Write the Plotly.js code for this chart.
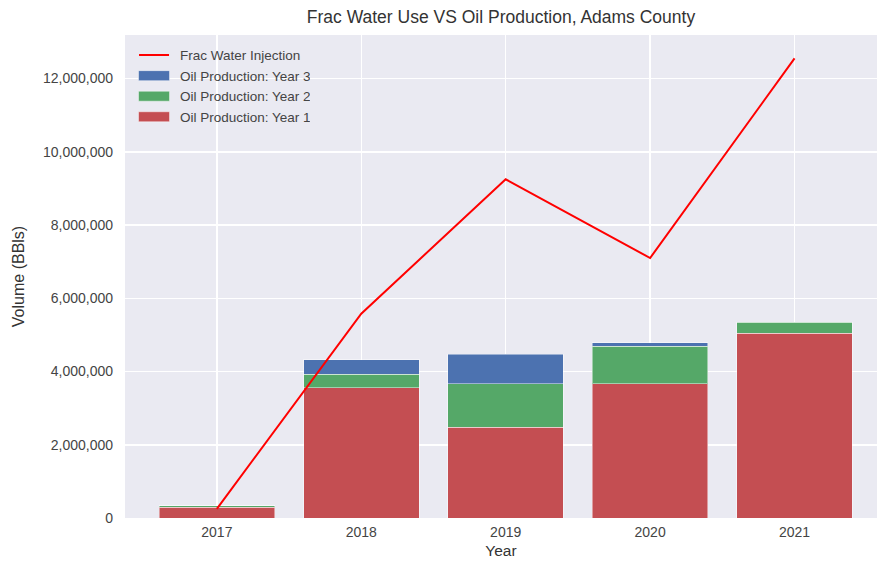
<!DOCTYPE html>
<html>
<head>
<meta charset="utf-8">
<script src="https://cdn.plot.ly/plotly-3.0.1.min.js"></script>
<style>html,body{margin:0;padding:0;background:#fff;}#chart{width:877px;height:562px;}</style>
</head>
<body>
<div id="chart"></div>
<script>
const years = [2017, 2018, 2019, 2020, 2021];
const oilYear1 = [290000, 3560000, 2480000, 3670000, 5050000];
const oilYear2 = [40000, 360000, 1190000, 1020000, 300000];
const oilYear3 = [0, 400000, 800000, 90000, 0];
const fracWater = [250000, 5580000, 9250000, 7100000, 12550000];
const yTicks = [0, 2000000, 4000000, 6000000, 8000000, 10000000, 12000000];
const yTickText = ['0', '2,000,000', '4,000,000', '6,000,000', '8,000,000', '10,000,000', '12,000,000'];

const font = 'Liberation Sans, Arial, sans-serif';
const edge = {color: 'rgba(255,255,255,0.45)', width: 1};

const traces = [
  {type: 'bar', x: years, y: oilYear1, name: 'Oil Production: Year 1', marker: {color: '#C44E52', line: edge}, width: 0.8},
  {type: 'bar', x: years, y: oilYear2, name: 'Oil Production: Year 2', marker: {color: '#55A868', line: edge}, width: 0.8},
  {type: 'bar', x: years, y: oilYear3, name: 'Oil Production: Year 3', marker: {color: '#4C72B0', line: edge}, width: 0.8},
  {type: 'scatter', mode: 'lines', x: years, y: fracWater, name: 'Frac Water Injection', line: {color: '#FF0000', width: 2}}
];

const layout = {
  width: 877, height: 562,
  barmode: 'stack',
  paper_bgcolor: '#FFFFFF',
  plot_bgcolor: '#EAEAF2',
  margin: {l: 125, r: 0, t: 35, b: 44, pad: 0},
  font: {family: font, color: '#262626'},
  title: {text: 'Frac Water Use VS Oil Production, Adams County', font: {family: font, size: 17.5, color: '#333333'}, x: 0.5, xref: 'paper', y: 0.97, yref: 'container', yanchor: 'middle'},
  xaxis: {
    range: [2016.364, 2021.571],
    tickvals: years, ticktext: years.map(String),
    tickfont: {family: font, size: 14, color: '#444444'},
    ticks: '', ticklabelstandoff: 4,
    showgrid: true, gridcolor: '#FFFFFF', gridwidth: 1.5,
    zeroline: false, showline: false,
    title: {text: 'Year', font: {family: font, size: 15.5, color: '#333333'}, standoff: 6}
  },
  yaxis: {
    range: [0, 13190000],
    tickvals: yTicks, ticktext: yTickText,
    tickfont: {family: font, size: 14, color: '#444444'},
    ticks: '', ticklabelstandoff: 11,
    showgrid: true, gridcolor: '#FFFFFF', gridwidth: 1.5,
    zeroline: false, showline: false,
    title: {text: 'Volume (BBls)', font: {family: font, size: 16, color: '#333333'}, standoff: 14}
  },
  showlegend: true,
  legend: {
    x: 0.012, y: 0.99, xanchor: 'left', yanchor: 'top',
    traceorder: 'reversed',
    bgcolor: 'rgba(0,0,0,0)', borderwidth: 0,
    font: {family: font, size: 13.5, color: '#444444'},
    itemwidth: 30, tracegroupgap: 0
  }
};

Plotly.newPlot('chart', traces, layout, {displayModeBar: false, staticPlot: true}).then(function (gd) {
  // matplotlib-style wide patch handles in the legend
  gd.querySelectorAll('.legend .traces').forEach(function (g) {
    g.querySelectorAll('.legendpoints path').forEach(function (p) {
      const d = p.getAttribute('d') || '';
      if (/^M6,6H-6V-6H6Z$/.test(d)) p.setAttribute('d', 'M15.5,5H-15.5V-5H15.5Z');
    });
    const t = g.querySelector('text.legendtext');
    if (t) t.setAttribute('x', 46);
  });
});
</script>
</body>
</html>
